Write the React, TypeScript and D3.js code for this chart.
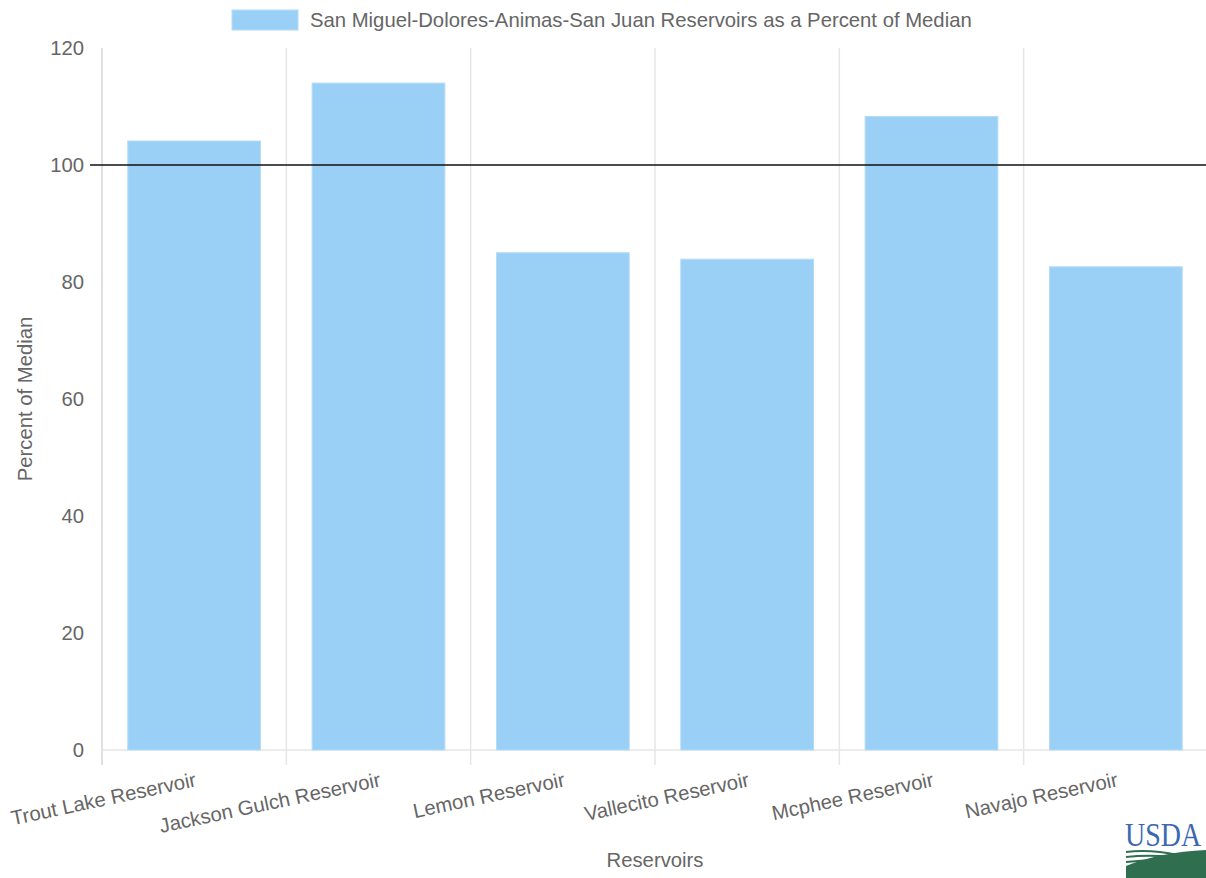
import React from "react";
import * as d3 from "d3";

// Reservoir storage as a percent of median
const reservoirs = [
  "Trout Lake Reservoir",
  "Jackson Gulch Reservoir",
  "Lemon Reservoir",
  "Vallecito Reservoir",
  "Mcphee Reservoir",
  "Navajo Reservoir",
];
const percentOfMedian = [104.1, 114.0, 85.0, 83.9, 108.3, 82.6];
const yTicks = [0, 20, 40, 60, 80, 100, 120];
const medianLine = 100;
const legendLabel = "San Miguel-Dolores-Animas-San Juan Reservoirs as a Percent of Median";
const xTitle = "Reservoirs";
const yTitle = "Percent of Median";

const W = 1206;
const H = 878;
const plot = { left: 102, right: 1208, top: 48, bottom: 750 };
const FONT = "'Liberation Sans', Arial, Helvetica, sans-serif";
const FS = 20.3;
const TEXT = "#666666";
const GRID = "#e6e6e6";
const BAR = "#9ad0f5";

export default function App() {
  const x = d3
    .scaleBand<string>()
    .domain(reservoirs)
    .range([plot.left, plot.right])
    .paddingInner(0)
    .paddingOuter(0);
  const y = d3.scaleLinear().domain([0, 120]).range([plot.bottom, plot.top]);
  const bw = x.bandwidth();
  const barW = bw * 0.72;
  const gridXs = reservoirs.map((r) => x(r) as number).concat([plot.right]);

  return (
    <svg
      width={W}
      height={H}
      style={{ position: "absolute", left: 0, top: 0, background: "#fff" }}
      fontFamily={FONT}
    >
      <rect x={0} y={0} width={W} height={H} fill="#ffffff" />

      {/* vertical category grid lines with tick marks */}
      {gridXs.map((gx, i) => (
        <line
          key={"g" + i}
          x1={gx}
          x2={gx}
          y1={plot.top}
          y2={plot.bottom + 15}
          stroke={i === 0 ? "#d6d6d6" : GRID}
          strokeWidth={1.5}
        />
      ))}
      {/* x axis baseline */}
      <line x1={plot.left} x2={plot.right} y1={plot.bottom} y2={plot.bottom} stroke={GRID} strokeWidth={1.5} />

      {/* bars */}
      {reservoirs.map((r, i) => (
        <rect
          key={r}
          x={(x(r) as number) + (bw - barW) / 2}
          y={y(percentOfMedian[i])}
          width={barW}
          height={y(0) - y(percentOfMedian[i])}
          fill={BAR}
          stroke="#b3dcf8"
          strokeWidth={1}
        />
      ))}

      {/* median reference line */}
      <line x1={90} x2={W} y1={y(medianLine)} y2={y(medianLine)} stroke="#111" strokeWidth={1.6} />

      {/* y tick labels */}
      {yTicks.map((t) => (
        <text
          key={"y" + t}
          x={84}
          y={y(t)}
          textAnchor="end"
          dominantBaseline="central"
          fontSize={FS}
          fill={TEXT}
        >
          {t}
        </text>
      ))}

      {/* x tick labels, rotated */}
      {reservoirs.map((r) => {
        const cx = (x(r) as number) + bw / 2;
        return (
          <text
            key={"x" + r}
            transform={`translate(${cx},${772}) rotate(-12)`}
            textAnchor="end"
            dominantBaseline="hanging"
            fontSize={FS}
            fill={TEXT}
          >
            {r}
          </text>
        );
      })}

      {/* axis titles */}
      <text x={(plot.left + plot.right) / 2} y={867} textAnchor="middle" fontSize={FS} fill={TEXT}>
        {xTitle}
      </text>
      <text
        transform={`translate(32,${(plot.top + plot.bottom) / 2}) rotate(-90)`}
        textAnchor="middle"
        fontSize={FS}
        fill={TEXT}
      >
        {yTitle}
      </text>

      {/* legend */}
      <rect x={232} y={10} width={66} height={20} fill={BAR} stroke="#b3dcf8" strokeWidth={1} />
      <text x={310} y={20} dominantBaseline="central" fontSize={FS} fill={TEXT}>
        {legendLabel}
      </text>

      {/* USDA mark */}
      <g>
        <text
          transform="translate(1125,846) scale(1,1.2)"
          fontFamily="'Liberation Serif', 'DejaVu Serif', serif"
          fontSize={28}
          fill="#3c67b1"
        >
          USDA
        </text>
        <path d="M1126,852 Q1150,849 1178,855" fill="none" stroke="#2f6e4f" strokeWidth={2} />
        <path d="M1126,857 Q1152,854 1186,858" fill="none" stroke="#2f6e4f" strokeWidth={2} />
        <path d="M1126,862 Q1155,859 1196,859" fill="none" stroke="#2f6e4f" strokeWidth={2} />
        <path d="M1126,878 L1126,866 Q1160,852 1206,850 L1206,878 Z" fill="#2f6e4f" />
      </g>
    </svg>
  );
}
